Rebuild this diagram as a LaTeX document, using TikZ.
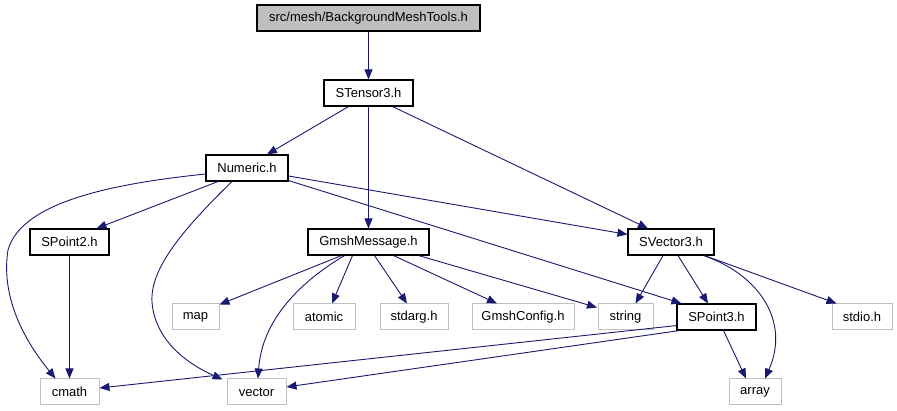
\documentclass[tikz,border=0pt]{standalone}
\usepackage{fontspec}
\setmainfont{Liberation Sans}
\usetikzlibrary{arrows.meta}
\definecolor{edgec}{HTML}{191970}
\definecolor{graybd}{HTML}{BFBFBF}
\tikzset{
  hbox/.style={draw=black, line width=1.1pt, fill=white, minimum height=26pt, inner sep=0pt, font=\fontsize{13}{15}\selectfont},
  sysbox/.style={draw=graybd, line width=1pt, fill=white, minimum height=26pt, inner sep=0pt, font=\fontsize{13}{15}\selectfont},
  rootbox/.style={hbox, fill=graybd},
  dep/.style={draw=edgec, line width=0.9pt, -{Triangle[length=10pt,width=8pt]}},
}
\begin{document}
\begin{tikzpicture}[x=1pt,y=-1pt]
\useasboundingbox (0,0) rectangle (897,411);
\node[rootbox, minimum width=223pt] (bmt) at (368.5,18) {src/mesh/BackgroundMeshTools.h};
\node[hbox, minimum width=89pt] (st) at (368.5,93) {STensor3.h};
\node[hbox, minimum width=82pt] (num) at (247,168) {Numeric.h};
\node[hbox, minimum width=79pt] (sp2) at (69.5,242) {SPoint2.h};
\node[hbox, minimum width=121pt] (gm) at (368.5,242) {GmshMessage.h};
\node[hbox, minimum width=86pt] (sv3) at (671,242) {SVector3.h};
\node[sysbox, minimum width=47pt] (map) at (195.5,317) {map};
\node[sysbox, minimum width=62pt] (atomic) at (324,317) {atomic};
\node[sysbox, minimum width=68pt] (stdarg) at (414,317) {stdarg.h};
\node[sysbox, minimum width=102pt] (gcfg) at (523,317) {GmshConfig.h};
\node[sysbox, minimum width=55pt] (string) at (625.5,317) {string};
\node[hbox, minimum width=79pt] (sp3) at (716.5,317) {SPoint3.h};
\node[sysbox, minimum width=60pt] (stdio) at (862,317) {stdio.h};
\node[sysbox, minimum width=59pt] (cmath) at (69.5,392) {cmath};
\node[sysbox, minimum width=59pt] (vector) at (256.5,392) {vector};
\node[sysbox, minimum width=52pt] (array) at (755,392) {array};

\draw[dep] (bmt.south) -- (st.north);
\draw[dep] ([xshift=-20pt]st.south) -- ([xshift=20pt]num.north);
\draw[dep] (st.south) -- (gm.north);
\draw[dep] ([xshift=24pt]st.south) -- ([xshift=-23pt]sv3.north);

\draw[dep] ([yshift=-6pt]num.west) .. controls (120,183) and (22,200) .. (8,250) .. controls (0,300) and (28,345) .. ([xshift=-14pt]cmath.north);
\draw[dep] ([xshift=-29pt]num.south) -- ([xshift=27pt]sp2.north);
\draw[dep] ([xshift=-15pt]num.south) .. controls (180,232) and (150,270) .. (152,302) .. controls (155,342) and (190,365) .. ([xshift=-34pt,yshift=-1pt]vector.north);
\draw[dep] ([yshift=-8pt]num.east) -- ([yshift=-6pt]sv3.north west);
\draw[dep] ([yshift=1pt]num.south east) -- ([xshift=5pt]sp3.north west);

\draw[dep] ([xshift=-27pt]gm.south) -- ([yshift=-1pt]map.north east);
\draw[dep] ([xshift=-24pt]gm.south) .. controls (300,282) and (262,320) .. ([xshift=1.5pt]vector.north);
\draw[dep] ([xshift=-16pt]gm.south) -- ([xshift=8pt]atomic.north);
\draw[dep] ([xshift=6pt]gm.south) -- ([xshift=-7pt]stdarg.north);
\draw[dep] ([xshift=25pt]gm.south) -- ([xshift=-26pt]gcfg.north);
\draw[dep] ([xshift=-11pt]gm.south east) -- ([xshift=-0.5pt,yshift=-4pt]string.north west);

\draw[dep] ([xshift=-8pt]sv3.south) -- ([xshift=10pt]string.north);
\draw[dep] ([xshift=7pt]sv3.south) -- ([xshift=-8.5pt]sp3.north);
\draw[dep] ([xshift=-11pt]sv3.south east) .. controls (760,275) and (790,322) .. ([xshift=10pt]array.north);
\draw[dep] ([xshift=-10pt]sv3.south east) -- ([xshift=5pt]stdio.north west);

\draw[dep] ([yshift=5pt]sp3.south west) -- ([yshift=4pt]cmath.east);
\draw[dep] ([xshift=3pt]sp3.south west) -- ([yshift=5pt]vector.east);
\draw[dep] ([xshift=7pt]sp3.south) -- ([xshift=-9pt]array.north);
\draw[dep] (sp2.south) -- (cmath.north);
\end{tikzpicture}
\end{document}
